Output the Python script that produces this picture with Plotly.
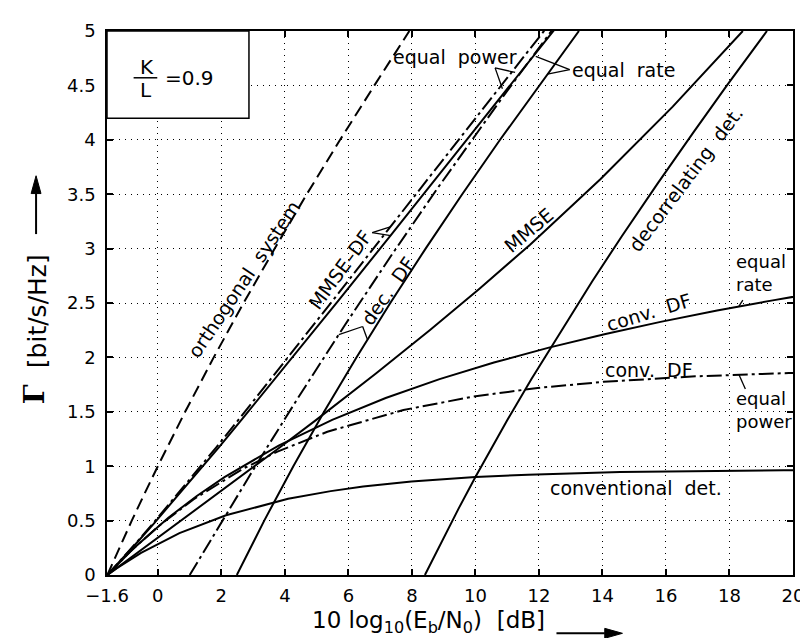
import plotly.graph_objects as go

# ---------------- data ----------------
orth_x = [-1.59, -1.44, -1.21, -0.82, -0.414, 0.0, 0.86, 1.76, 2.70, 3.68, 4.69, 5.74, 6.82, 7.92]
orth_y = [0.0, 0.1, 0.25, 0.5, 0.75, 1.0, 1.5, 2.0, 2.5, 3.0, 3.5, 4.0, 4.5, 5.0]

mmsedf_ep_x = [-1.59, -1.218, -0.631, -0.169, 0.695, 1.848, 2.650, 3.784, 5.518, 7.138, 8.640, 10.217, 11.29, 12.11, 12.46]
mmsedf_ep_y = [0.0, 0.119, 0.312, 0.468, 0.767, 1.176, 1.467, 1.883, 2.526, 3.131, 3.692, 4.280, 4.678, 4.981, 5.112]

mmsedf_er_x = [-1.59, -1.208, -0.611, -0.139, 0.745, 1.928, 2.75, 3.914, 5.698, 7.358, 8.89, 10.497, 11.58, 12.41, 12.76]
mmsedf_er_y = [0.0, 0.119, 0.312, 0.468, 0.767, 1.176, 1.467, 1.883, 2.526, 3.131, 3.692, 4.280, 4.678, 4.981, 5.112]

decdf_ep_x = [1.005, 1.279, 1.638, 2.136, 2.909, 3.507, 4.415, 5.912, 7.391, 8.806, 10.886, 12.51]
decdf_ep_y = [0.0, 0.134, 0.309, 0.550, 0.921, 1.204, 1.628, 2.307, 2.954, 3.554, 4.404, 5.046]

decdf_er_x = [2.488, 3.351, 4.267, 5.235, 6.254, 7.320, 8.432, 9.584, 10.776, 12.004, 13.26]
decdf_er_y = [0.0, 0.5, 1.0, 1.5, 2.0, 2.5, 3.0, 3.5, 4.0, 4.5, 5.0]

mmse_x = [-1.59, -1.055, -0.253, 0.349, 1.430, 2.801, 3.722, 4.989, 6.867, 8.571, 10.118, 11.712, 13.934, 16.213, 17.569, 18.42]
mmse_y = [0.0, 0.115, 0.286, 0.415, 0.648, 0.944, 1.146, 1.426, 1.852, 2.251, 2.628, 3.034, 3.638, 4.305, 4.726, 5.0]

decor_x = [8.41, 8.99, 9.47, 10.0, 11.01, 11.76, 12.87, 13.68, 14.61, 15.74, 16.87, 17.92, 19.18]
decor_y = [0.0, 0.341, 0.610, 0.9, 1.427, 1.8, 2.327, 2.7, 3.114, 3.6, 4.071, 4.5, 5.0]

convdf_er_x = [-1.59, -1.186, -0.793, 0.332, 1.228, 2.100, 3.805, 5.490, 7.175, 8.871, 10.583, 12.313, 14.062, 15.828, 17.610, 19.407, 20.49]
convdf_er_y = [0.0, 0.1238, 0.2367, 0.5265, 0.7266, 0.9, 1.1897, 1.4265, 1.6266, 1.8, 1.9529, 2.0897, 2.2135, 2.3265, 2.4304, 2.5266, 2.5811]

convdf_ep_x = [-1.59, -1.203, -0.855, 0.018, 1.122, 2.666, 3.767, 5.338, 7.734, 9.945, 11.960, 14.038, 16.927, 19.867, 20.2]
convdf_ep_y = [0.0, 0.1187, 0.2192, 0.4481, 0.6952, 0.9742, 1.1340, 1.3165, 1.5166, 1.6408, 1.7192, 1.7756, 1.8260, 1.8561, 1.858]

conv_x = [-1.59, -1.299, -0.528, 0.681, 2.146, 4.103, 5.443, 6.465, 7.985, 10.0, 11.655, 14.557, 19.707, 20.118]
conv_y = [0.0, 0.0607, 0.2033, 0.3847, 0.549, 0.6999, 0.7710, 0.8125, 0.8588, 0.9, 0.9222, 0.9456, 0.9627, 0.9634]

x_tickvals = [-1.6, 0, 2, 4, 6, 8, 10, 12, 14, 16, 18, 20]
x_ticktext = ["\u22121.6", "0", "2", "4", "6", "8", "10", "12", "14", "16", "18", "20"]
y_tickvals = [0, 0.5, 1, 1.5, 2, 2.5, 3, 3.5, 4, 4.5, 5]
y_ticktext = ["0", "0.5", "1", "1.5", "2", "2.5", "3", "3.5", "4", "4.5", "5"]

# ---------------- figure ----------------
DASH = "12px,6px"
DASHDOT = "15px,4px,3px,4px"
FONT = "DejaVu Sans"
NB = "\u00a0"

fig = go.Figure()

def add(x, y, dash):
    fig.add_trace(go.Scatter(x=x, y=y, mode="lines",
                             line=dict(color="black", width=2, dash=dash),
                             showlegend=False, hoverinfo="skip"))

add(orth_x, orth_y, DASH)
add(mmsedf_ep_x, mmsedf_ep_y, DASHDOT)
add(mmsedf_er_x, mmsedf_er_y, "solid")
add(decdf_ep_x, decdf_ep_y, DASHDOT)
add(decdf_er_x, decdf_er_y, "solid")
add(mmse_x, mmse_y, "solid")
add(decor_x, decor_y, "solid")
add(convdf_er_x, convdf_er_y, "solid")
add(convdf_ep_x, convdf_ep_y, DASHDOT)
add(conv_x, conv_y, "solid")

axis_common = dict(
    showgrid=True, gridcolor="black", gridwidth=1, griddash="1px,5px",
    ticks="inside", ticklen=6, tickwidth=1.5, tickcolor="black",
    showline=True, linecolor="black", linewidth=1.5, mirror="ticks",
    zeroline=False, tickfont=dict(family=FONT, size=18, color="black"),
)

fig.update_layout(
    width=808, height=638,
    margin=dict(l=99, r=13, t=16, b=71),
    paper_bgcolor="white", plot_bgcolor="white",
    xaxis=dict(range=[-1.6, 20], tickmode="array", tickvals=x_tickvals,
               ticktext=x_ticktext, ticklabelstandoff=4, **axis_common),
    yaxis=dict(range=[0, 5], tickmode="array", tickvals=y_tickvals,
               ticktext=y_ticktext, ticklabelstandoff=6, **axis_common),
    showlegend=False,
)

def label(x, y, text, angle=0, xanchor="center", align="center", size=19):
    fig.add_annotation(x=x, y=y, xref="x", yref="y", text=text, showarrow=False,
                       textangle=angle, xanchor=xanchor, yanchor="middle", align=align,
                       font=dict(family=FONT, size=size, color="black"))

label(9.356, 4.764, "equal" + NB + " power")
label(14.65, 4.646, "equal" + NB + " rate")
label(2.714, 2.72, "orthogonal" + NB + " system", angle=-56)
label(5.725, 2.806, "MMSE\u2013DF", angle=-54)
label(7.245, 2.611, "dec." + NB + " DF", angle=-55)
label(11.68, 3.174, "MMSE", angle=-40)
label(16.62, 3.64, "decorrelating" + NB + " det.", angle=-53)
label(15.47, 2.42, "conv." + NB + " DF", angle=-17)
label(18.15, 2.775, "equal<br>rate", xanchor="left", align="left", size=18)
label(15.47, 1.885, "conv." + NB + " DF")
label(18.15, 1.512, "equal<br>power", xanchor="left", align="left", size=18)
label(15.07, 0.804, "conventional" + NB + " det.")

# K/L box
fig.add_shape(type="rect", xref="x", yref="y", x0=-1.6, x1=2.87, y0=4.198, y1=5,
              line=dict(color="black", width=1.5), fillcolor="white", layer="above")
label(-0.35, 4.668, "K", size=20)
label(-0.37, 4.457, "L", size=20)
fig.add_shape(type="line", xref="x", yref="y", x0=-0.762, x1=-0.017, y0=4.57, y1=4.57,
              line=dict(color="black", width=1.5))
label(0.99, 4.564, "=0.9", size=20)

# pointer strokes
def stroke(x0, y0, x1, y1):
    fig.add_shape(type="line", xref="x", yref="y", x0=x0, y0=y0, x1=x1, y1=y1,
                  line=dict(color="black", width=1.3))

stroke(10.62, 4.661, 11.25, 4.619)
stroke(10.62, 4.661, 10.85, 4.47)
stroke(12.97, 4.646, 11.9, 4.766)
stroke(12.97, 4.646, 12.27, 4.604)
stroke(6.75, 3.147, 7.32, 3.20)
stroke(6.75, 3.147, 7.33, 3.12)
stroke(6.45, 2.284, 5.70, 2.209)
stroke(6.45, 2.284, 6.60, 2.164)
stroke(18.42, 2.527, 18.29, 2.466)
stroke(18.30, 1.84, 18.5, 1.709)

# axis titles
fig.add_annotation(x=0.468, y=-0.086, xref="paper", yref="paper",
                   text="10 log<sub>10</sub>(E<sub>b</sub>/N<sub>0</sub>)" + NB + NB + "[dB]",
                   showarrow=False, xanchor="center", yanchor="middle",
                   font=dict(family=FONT, size=23, color="black"))
fig.add_annotation(x=-0.102, y=0.485, xref="paper", yref="paper", text="[bit/s/Hz]",
                   showarrow=False, textangle=-90, xanchor="center", yanchor="middle",
                   font=dict(family=FONT, size=25, color="black"))
fig.add_annotation(x=-0.1063, y=0.3324, xref="paper", yref="paper", text="<b>\u0393</b>",
                   showarrow=False, textangle=-90, xanchor="center", yanchor="middle",
                   font=dict(family="DejaVu Serif", size=28, color="black"))

# arrows drawn as shapes (paper coordinates)
fig.add_shape(type="line", xref="paper", yref="paper", x0=0.6552, x1=0.7256,
              y0=-0.1072, y1=-0.1072, line=dict(color="black", width=2))
fig.add_shape(type="path", xref="paper", yref="paper",
              path="M 0.7514 -0.1072 L 0.7256 -0.0981 L 0.7256 -0.1163 Z",
              fillcolor="black", line=dict(color="black", width=1))
fig.add_shape(type="line", xref="paper", yref="paper", x0=-0.1034, x1=-0.1034,
              y0=0.6267, y1=0.7012, line=dict(color="black", width=2))
fig.add_shape(type="path", xref="paper", yref="paper",
              path="M -0.1034 0.7339 L -0.1106 0.7012 L -0.0962 0.7012 Z",
              fillcolor="black", line=dict(color="black", width=1))

fig.write_html("out.html")
